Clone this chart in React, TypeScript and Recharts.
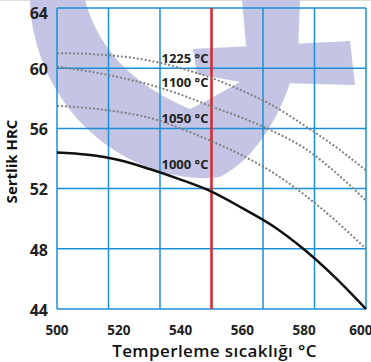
import { LineChart, Line, XAxis, YAxis, ReferenceLine, ReferenceDot } from "recharts";

// temper temperature (°C) and hardness (HRC) per hardening temperature
const temps = [500, 510, 520, 530, 540, 550, 560, 570, 580, 590, 600];
const hrc1225 = [61.0, 60.95, 60.8, 60.5, 60.0, 59.35, 58.5, 57.5, 56.2, 54.8, 53.2];
const hrc1100 = [60.1, 59.8, 59.4, 58.9, 58.25, 57.45, 56.7, 55.8, 54.7, 53.1, 51.2];
const hrc1050 = [57.5, 57.35, 57.1, 56.7, 56.0, 55.15, 54.2, 53.05, 51.6, 49.9, 48.0];
const hrc1000 = [54.4, 54.25, 53.9, 53.3, 52.6, 51.8, 50.7, 49.5, 47.95, 46.1, 44.0];

const xTicks = [500, 520, 540, 560, 580, 600];
const yTicks = [44, 48, 52, 56, 60, 64];
const gridX = [500, 516.67, 533.33, 550, 566.67, 583.33, 600];
const markTemp = 550;

const curveLabels = ["1225 °C", "1100 °C", "1050 °C", "1000 °C"];
const labelHrc = [60.67, 59.07, 56.67, 53.6];
const labelTemp = 533.5;

const data = temps.map((t, i) => ({
  t,
  a: hrc1225[i],
  b: hrc1100[i],
  c: hrc1050[i],
  d: hrc1000[i],
}));

const blue = "#1b8fd9";
const font = "'Open Sans', sans-serif";

function Watermark() {
  return (
    <svg width={371} height={362} style={{ position: "absolute", left: 0, top: 0 }}>
      <line x1={0} y1={0.5} x2={371} y2={0.5} stroke="#dddddd" />
      <path
        d="M30,0 C32,70 75,140 150,168 C175,177 200,180 220,177 C258,158 286,108 298,55 L300,0 L242,0 L246,45 L240,82 C222,92 205,102 190,109 C140,88 100,55 85,0 Z"
        fill="#c4c4e4"
      />
      <path d="M193,49 L350,41 L355,85 L240,82 L197,74 Z" fill="#c4c4e4" />
    </svg>
  );
}

function YTick(props: any) {
  const { x, y, payload } = props;
  const shift = payload.value === 64 ? 4 : 1;
  return (
    <text
      x={x}
      y={y + shift}
      dy="0.36em"
      textAnchor="end"
      fontFamily={font}
      fontWeight={700}
      fontSize={16}
      fill="#222"
    >
      {payload.value}
    </text>
  );
}

export default function App() {
  return (
    <div style={{ position: "absolute", left: 0, top: 0, width: 371, height: 362, background: "#fff" }}>
      <Watermark />
      <div style={{ position: "absolute", left: 0, top: 0 }}>
        <LineChart width={371} height={362} data={data} margin={{ top: 8, right: 5, bottom: 0, left: 0 }}>
          <XAxis
            dataKey="t"
            type="number"
            domain={[500, 600]}
            ticks={xTicks}
            axisLine={false}
            tickLine={false}
            tickSize={0}
            tickMargin={16}
            height={53}
            tick={{ fontFamily: font, fontWeight: 700, fontSize: 13.5, fill: "#222" }}
            label={{
              value: "Temperleme sıcaklığı °C",
              position: "insideBottom",
              offset: 5,
              dx: 3,
              style: { fontFamily: font, fontWeight: 600, fontSize: 17, letterSpacing: 0.4, fill: "#111" },
            }}
          />
          <YAxis
            type="number"
            domain={[44, 64]}
            ticks={yTicks}
            axisLine={false}
            tickLine={false}
            tickSize={0}
            tickMargin={9}
            width={57}
            tick={<YTick />}
            label={{
              value: "Sertlik HRC",
              angle: -90,
              position: "insideLeft",
              offset: 12,
              dy: 3,
              style: { fontFamily: font, fontWeight: 700, fontSize: 15, fill: "#111", textAnchor: "middle" },
            }}
          />
          {yTicks.map((v) => (
            <ReferenceLine key={"h" + v} y={v} stroke={blue} strokeWidth={1.5} />
          ))}
          {gridX.map((v) => (
            <ReferenceLine key={"v" + v} x={v} stroke={blue} strokeWidth={1.5} />
          ))}
          <ReferenceLine x={markTemp} stroke="#e0282a" strokeWidth={2.5} />
          <Line dataKey="a" type="monotone" stroke="#808080" strokeWidth={2} strokeDasharray="2 2" dot={false} isAnimationActive={false} />
          <Line dataKey="b" type="monotone" stroke="#808080" strokeWidth={2} strokeDasharray="2 2" dot={false} isAnimationActive={false} />
          <Line dataKey="c" type="monotone" stroke="#808080" strokeWidth={2} strokeDasharray="2 2" dot={false} isAnimationActive={false} />
          <Line dataKey="d" type="monotone" stroke="#111" strokeWidth={2.5} dot={false} isAnimationActive={false} />
          {curveLabels.map((s, i) => (
            <ReferenceDot
              key={s}
              x={labelTemp}
              y={labelHrc[i]}
              r={1}
              fill="none"
              stroke="none"
              label={{
                value: s,
                position: "right",
                offset: 0,
                style: { fontFamily: font, fontWeight: 700, fontSize: 13, fill: "#222" },
              }}
            />
          ))}
        </LineChart>
      </div>
    </div>
  );
}
